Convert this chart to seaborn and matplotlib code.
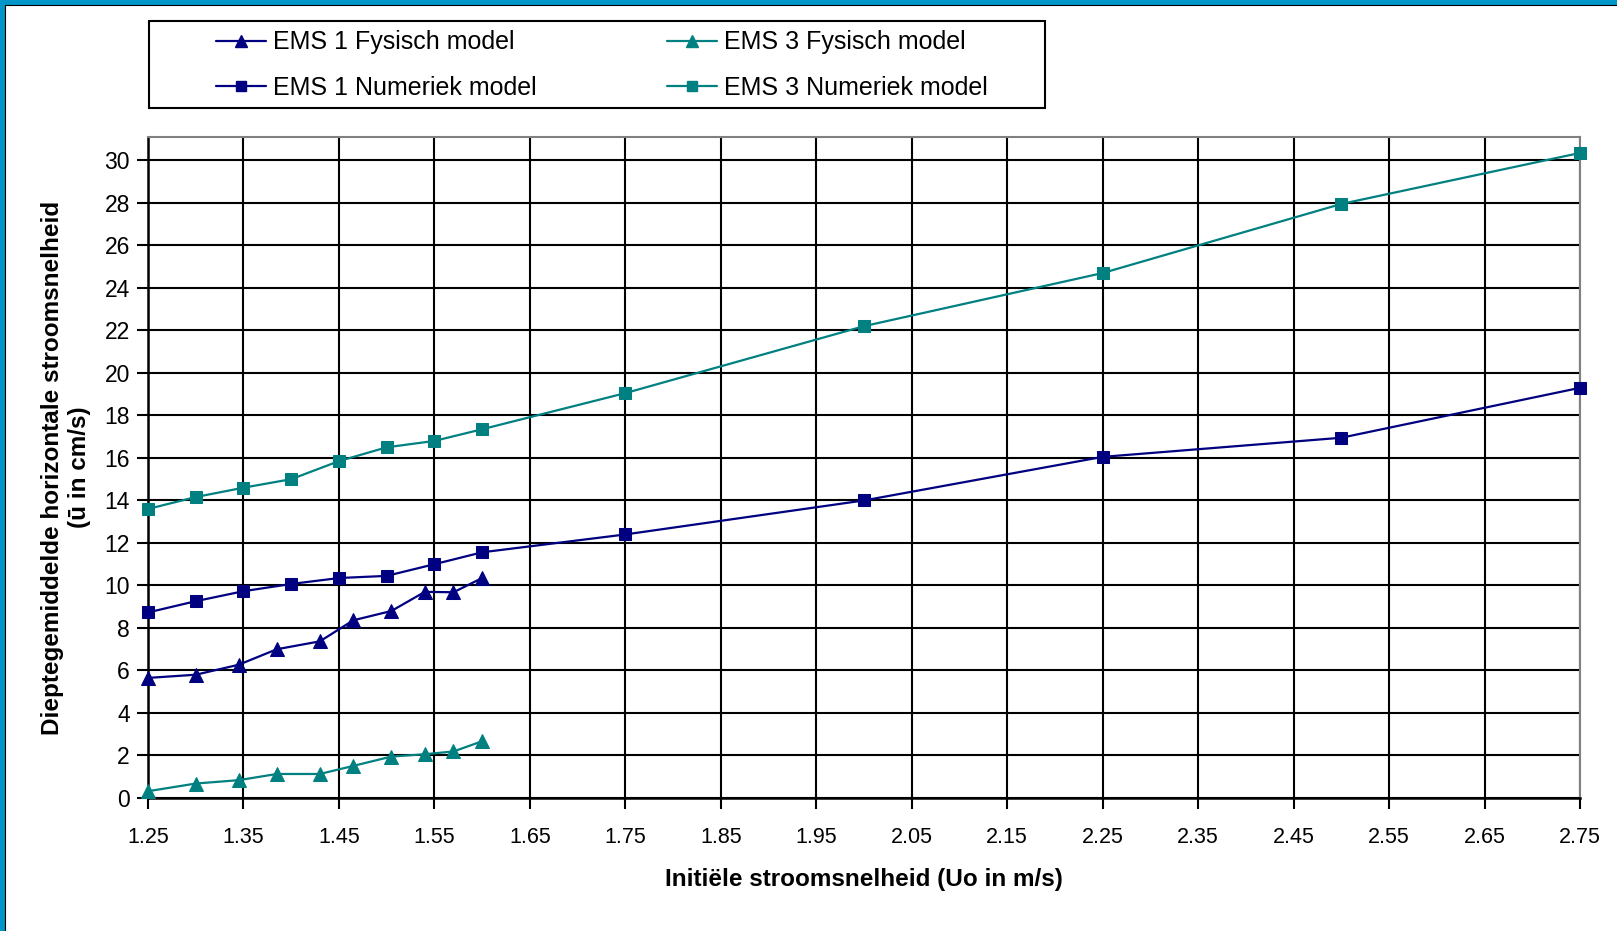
import matplotlib
matplotlib.use("Agg")
import matplotlib.pyplot as plt
from matplotlib.lines import Line2D
from matplotlib.patches import Rectangle
import seaborn as sns
import pandas as pd
import numpy as np

# ---- data ----
x_fys = [1.25, 1.30, 1.345, 1.385, 1.43, 1.465, 1.505, 1.54, 1.57, 1.60]
ems1_fys = [5.65, 5.8, 6.27, 7.0, 7.37, 8.36, 8.8, 9.7, 9.68, 10.35]
ems3_fys = [0.32, 0.68, 0.84, 1.13, 1.13, 1.51, 1.95, 2.06, 2.19, 2.67]

x_num = [1.25, 1.30, 1.35, 1.40, 1.45, 1.50, 1.55, 1.60, 1.75, 2.00, 2.25, 2.50, 2.75]
ems1_num = [8.73, 9.26, 9.73, 10.07, 10.35, 10.45, 11.0, 11.56, 12.4, 14.0, 16.05, 16.95, 19.3]
ems3_num = [13.6, 14.16, 14.6, 15.0, 15.85, 16.5, 16.8, 17.35, 19.05, 22.2, 24.7, 27.95, 30.35]

labels = ["EMS 1 Fysisch model", "EMS 1 Numeriek model",
          "EMS 3 Fysisch model", "EMS 3 Numeriek model"]
x_ticks = [1.25, 1.35, 1.45, 1.55, 1.65, 1.75, 1.85, 1.95, 2.05, 2.15,
           2.25, 2.35, 2.45, 2.55, 2.65, 2.75]
y_ticks = list(range(0, 31, 2))

NAVY = "#000080"
TEAL = "#008080"

sns.set_theme(style="white")
plt.rcParams["font.family"] = ["Liberation Sans", "DejaVu Sans"]

W, H = 1617, 931
fig = plt.figure(figsize=(W / 100, H / 100), dpi=100)
fig.patch.set_facecolor("white")
ax = fig.add_axes([148 / W, 1 - 798 / H, (1580 - 148) / W, (798 - 137) / H])

series = [
    (x_fys, ems1_fys, labels[0], NAVY, "^", 10),
    (x_num, ems1_num, labels[1], NAVY, "s", 8),
    (x_fys, ems3_fys, labels[2], TEAL, "^", 10),
    (x_num, ems3_num, labels[3], TEAL, "s", 8),
]
handles = []
for xs, ys, lab, col, mk, ms in series:
    df = pd.DataFrame({"x": xs, "y": ys})
    sns.lineplot(data=df, x="x", y="y", ax=ax, color=col, marker=mk,
                 markersize=ms, markeredgecolor=col, markerfacecolor=col,
                 linewidth=1.6, estimator=None, sort=True, clip_on=False,
                 zorder=5)
    handles.append(Line2D([0], [0], color=col, marker=mk, markersize=ms * 0.85,
                          markeredgecolor=col, linewidth=1.6, label=lab))

ax.set_xlim(1.25, 2.75)
ax.set_ylim(0, 31.1)
ax.set_xticks(x_ticks)
ax.set_xticklabels([f"{v:.2f}" for v in x_ticks])
ax.set_yticks(y_ticks)
ax.set_yticklabels([str(v) for v in y_ticks])
ax.grid(True, color="black", linewidth=1.5)
ax.set_axisbelow(True)
ax.tick_params(axis="both", which="major", direction="out", length=8,
               width=1.5, color="black", labelcolor="black",
               bottom=True, left=True)
ax.tick_params(axis="x", pad=13, labelsize=15.5)
ax.tick_params(axis="y", pad=5, labelsize=16.5)
for s in ["left", "bottom"]:
    ax.spines[s].set_color("black")
    ax.spines[s].set_linewidth(1.8)
for s in ["top", "right"]:
    ax.spines[s].set_color("#808080")
    ax.spines[s].set_linewidth(1.5)

ax.set_xlabel("Initiële stroomsnelheid (Uo in m/s)", fontsize=17.5,
              fontweight="bold", color="black", labelpad=14)
ax.set_ylabel("Dieptegemiddelde horizontale stroomsnelheid\n(ū in cm/s)",
              fontsize=17.5, fontweight="bold", color="black", labelpad=10,
              linespacing=1.2)

# legend box
fig.patches.append(Rectangle((149 / W, 1 - 108 / H), (1045 - 149) / W, (108 - 21) / H,
                             transform=fig.transFigure, facecolor="white",
                             edgecolor="black", linewidth=1.5, zorder=1))
leg = fig.legend(handles=[handles[0], handles[1], handles[2], handles[3]],
                 ncol=2, loc="center", bbox_to_anchor=(602 / W, 1 - 65 / H),
                 bbox_transform=fig.transFigure, frameon=False, fontsize=18,
                 handlelength=2.0, handletextpad=0.3, columnspacing=5.2,
                 labelspacing=0.85, borderpad=0)
for t in leg.get_texts():
    t.set_color("black")

# blue frame at top and left
fig.patches.append(Rectangle((0, 1 - 5 / H), 1, 5 / H, transform=fig.transFigure,
                             facecolor="#0096C8", edgecolor="none", zorder=0))
fig.patches.append(Rectangle((0, 0), 5 / W, 1, transform=fig.transFigure,
                             facecolor="#0096C8", edgecolor="none", zorder=0))
fig.add_artist(Line2D([5 / W, 1], [1 - 5 / H, 1 - 5 / H], transform=fig.transFigure,
                      color="black", linewidth=0.8))
fig.add_artist(Line2D([5 / W, 5 / W], [0, 1 - 5 / H], transform=fig.transFigure,
                      color="black", linewidth=0.8))

fig.savefig("out.png", dpi=100, facecolor="white")
